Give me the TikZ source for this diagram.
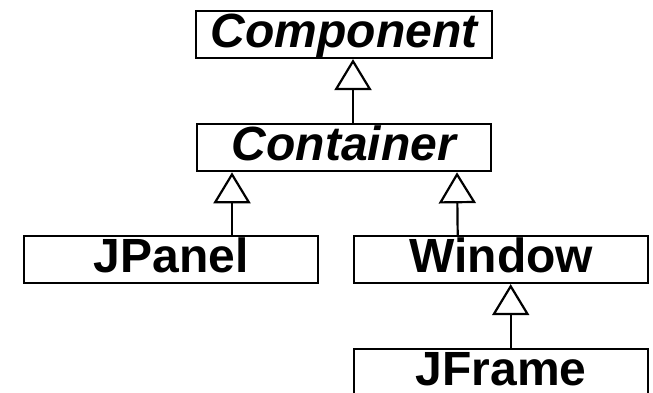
\documentclass[tikz,border=0pt]{standalone}
\usepackage{fontspec}
\setmainfont{Liberation Sans}
\usetikzlibrary{arrows.meta,positioning}

\begin{document}
\begin{tikzpicture}[
  x=1pt, y=1pt,
  cls/.style={rectangle, draw, line width=2.2pt,
              minimum width=294pt, minimum height=47pt,
              inner sep=0pt, text height=26pt, text depth=0pt,
              font=\fontsize{48}{52}\selectfont\bfseries},
  abstract/.style={cls, font=\fontsize{48}{52}\selectfont\bfseries\itshape},
  inherit/.style={-{Triangle[open, length=31pt, width=37pt]}, line width=2.2pt},
  node distance=64pt and 34pt
]
  \useasboundingbox (0,0) rectangle (653,-392);

  \node[abstract, minimum width=296pt] (component) at (344,-34.5) {Component};
  \node[abstract, below=of component] (container) {Container};
  \node[cls] (jpanel) at (171,-259.5) {JPanel};
  \node[cls, right=of jpanel] (window) {Window};
  \node[cls, below=of window] (jframe) {JFrame};

  \draw[inherit] ([xshift=9pt]container.north) -- ([xshift=9pt]component.south);
  \draw[inherit] ([xshift=61pt]jpanel.north) -- ([xshift=-112pt]container.south);
  \draw[inherit] ([xshift=-43.5pt]window.north) -- ([xshift=113pt]container.south);
  \draw[inherit] ([xshift=9.5pt]jframe.north) -- ([xshift=9.5pt]window.south);
\end{tikzpicture}
\end{document}
